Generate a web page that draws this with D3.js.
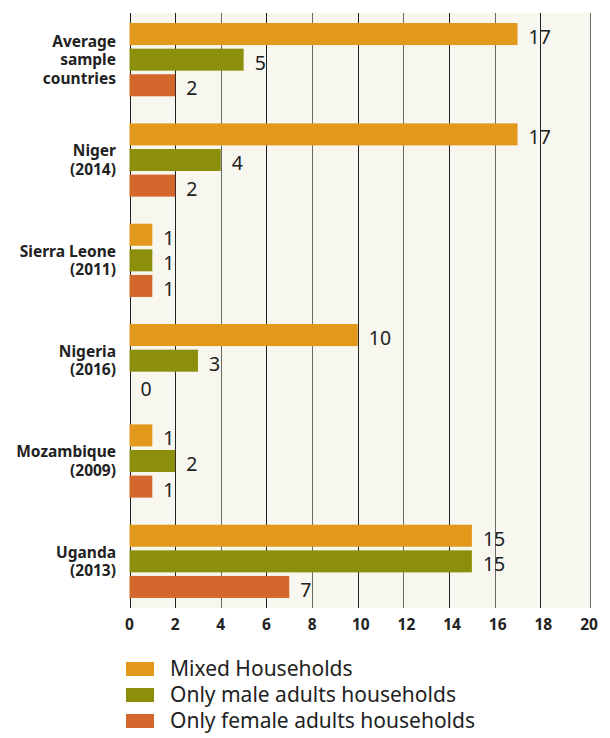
<!DOCTYPE html>
<html lang="en">
<head>
<meta charset="utf-8">
<title>Households</title>
<script src="https://cdn.jsdelivr.net/npm/d3@7"></script>
<style>
body {
  margin: 0;
  background-color: #ffffff;
  font-family: "Noto Sans", sans-serif;
  color: #222;
}
.cat-label { font-size: 15.5px; font-weight: 700; fill: #222; }
.tick-label { font-size: 15.5px; font-weight: 700; fill: #222; }
.value-label { font-size: 19.5px; fill: #222; }
.legend-label { font-size: 21px; fill: #222; }
</style>
</head>
<body>
<svg width="610" height="738"></svg>
<script>

// categories (top to bottom), each label split into lines
var countries = [
  ["Average", "sample", "countries"],
  ["Niger", "(2014)"],
  ["Sierra Leone", "(2011)"],
  ["Nigeria", "(2016)"],
  ["Mozambique", "(2009)"],
  ["Uganda", "(2013)"]
];

var series = ["Mixed Households", "Only male adults households", "Only female adults households"];

// values per country, same order as countries
var mixed  = [17, 17, 1, 10, 1, 15];
var male   = [5, 4, 1, 3, 2, 15];
var female = [2, 2, 1, 0, 1, 7];

var xTicks = [0, 2, 4, 6, 8, 10, 12, 14, 16, 18, 20];

var colors = ["#e2981a", "#8b8f0b", "#d4672b"];

var svg = d3.select("svg");

var plotLeft = 129.5, plotRight = 586, plotTop = 13, plotBottom = 608;

var x = d3.scaleLinear()
    .domain([0, 20])
    .range([plotLeft, plotRight]);

var y0 = d3.scaleBand()
    .domain(d3.range(countries.length))
    .range([plotTop, plotBottom])
    .paddingInner(0.27)
    .paddingOuter(0.1);

var y1 = d3.scaleBand()
    .domain(d3.range(series.length))
    .range([0, y0.bandwidth()])
    .paddingInner(0.14);

var color = d3.scaleOrdinal()
    .domain(d3.range(series.length))
    .range(colors);

var rows = countries.map(function(c, i) {
  return [mixed[i], male[i], female[i]];
});

// plot background
svg.append("rect")
    .attr("x", plotLeft)
    .attr("y", plotTop)
    .attr("width", plotRight - plotLeft + 4)
    .attr("height", plotBottom - plotTop)
    .attr("fill", "#f7f7ef");

// vertical grid (last line sits on the frame edge)
function gridX(d) { return d == 20 ? Math.round(x(d)) + 4.5 : Math.round(x(d)) + 0.5; }

svg.append("g")
  .selectAll("line")
  .data(xTicks)
  .enter().append("line")
    .attr("x1", gridX)
    .attr("x2", gridX)
    .attr("y1", plotTop)
    .attr("y2", plotBottom)
    .attr("stroke", function(d) { return d % 4 == 0 && d > 0 ? "#6b6b66" : "#222"; })
    .attr("stroke-width", 1);

// tick labels
svg.append("g")
  .selectAll("text")
  .data(xTicks)
  .enter().append("text")
    .attr("class", "tick-label")
    .attr("x", function(d) { return x(d) + (d >= 10 ? 3 : 0); })
    .attr("y", 630)
    .attr("text-anchor", "middle")
    .text(function(d) { return d; });

// bars
var group = svg.append("g")
  .selectAll("g")
  .data(rows)
  .enter().append("g")
    .attr("transform", function(d, i) { return "translate(0," + y0(i) + ")"; });

group.selectAll("rect")
  .data(function(d) { return d; })
  .enter().append("rect")
    .attr("x", x(0))
    .attr("y", function(d, j) { return y1(j); })
    .attr("width", function(d) { return x(d) - x(0); })
    .attr("height", y1.bandwidth())
    .attr("fill", function(d, j) { return color(j); });

group.selectAll("text.value-label")
  .data(function(d) { return d; })
  .enter().append("text")
    .attr("class", "value-label")
    .attr("x", function(d) { return x(d) + 11; })
    .attr("y", function(d, j) { return y1(j) + y1.bandwidth() / 2 + 3; })
    .attr("dy", "0.36em")
    .text(function(d) { return d; });

// category labels, one text per line
var catLines = [];
countries.forEach(function(lines, i) {
  lines.forEach(function(t, j) {
    catLines.push({text: t, row: i, line: j, n: lines.length});
  });
});

svg.append("g")
  .selectAll("text")
  .data(catLines)
  .enter().append("text")
    .attr("class", "cat-label")
    .attr("text-anchor", "end")
    .attr("x", 116)
    .attr("y", function(d) { return y0(d.row) + y0.bandwidth() / 2 + (d.line - (d.n - 1) / 2) * 18.5; })
    .attr("dy", "0.35em")
    .text(function(d) { return d.text; });

// legend
var legend = svg.append("g")
  .selectAll("g")
  .data(series)
  .enter().append("g")
    .attr("transform", function(d, i) { return "translate(126," + (669 + i * 26) + ")"; });

legend.append("rect")
    .attr("x", 0)
    .attr("y", -7)
    .attr("width", 28)
    .attr("height", 14)
    .attr("fill", function(d, i) { return color(i); });

legend.append("text")
    .attr("class", "legend-label")
    .attr("x", 44)
    .attr("dy", "0.35em")
    .text(function(d) { return d; });

</script>
</body>
</html>
